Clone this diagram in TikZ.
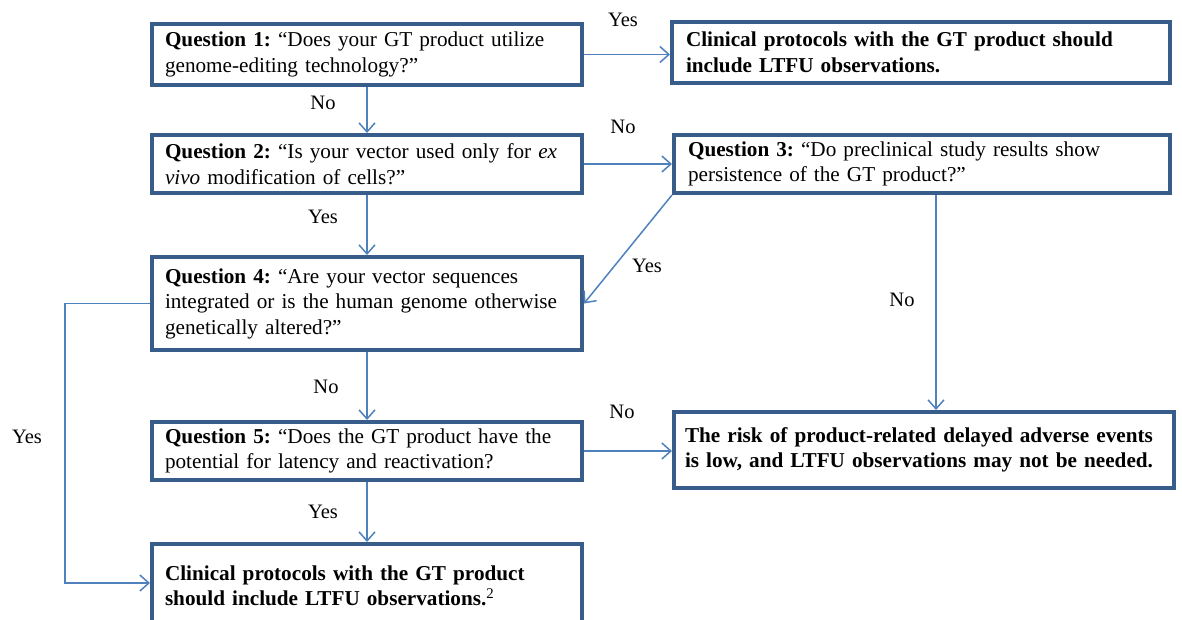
\documentclass[tikz,border=0pt]{standalone}
\usepackage{fontspec}
\setmainfont{Liberation Serif}
\frenchspacing
\usetikzlibrary{arrows.meta}
\definecolor{boxblue}{HTML}{385D8A}
\definecolor{linkblue}{HTML}{4F81BD}
\tikzset{
	qbox/.style={draw=boxblue, line width=4pt, align=left, inner xsep=13pt, inner ysep=0pt, font=\fontsize{21.2}{25.5}\selectfont},
	link/.style={draw=linkblue, line width=1.5pt, -{Straight Barb[length=9pt,width=16pt]}},
	answer/.style={font=\fontsize{20.5}{24}\selectfont, inner sep=0pt}
}
\begin{document}
\begin{tikzpicture}[x=1pt,y=-1pt]
		\useasboundingbox (0,0) rectangle (1182,619);
		% left column
		\node[qbox, minimum width=430pt, minimum height=61pt, text width=404pt] (q1) at (367,54.5)
			{\textbf{Question 1:} “Does your GT product utilize\\genome-editing technology?”};
		\node[qbox, minimum width=430pt, minimum height=58pt, text width=404pt] (q2) at (367,164)
			{\textbf{Question 2:} “Is your vector used only for \textit{ex}\\\textit{vivo} modification of cells?”};
		\node[qbox, minimum width=430pt, minimum height=93pt, text width=404pt] (q4) at (367,303.5)
			{\textbf{Question 4:} “Are your vector sequences\\integrated or is the human genome otherwise\\genetically altered?”};
		\node[qbox, minimum width=430pt, minimum height=58pt, text width=404pt] (q5) at (367,451)
			{\textbf{Question 5:} “Does the GT product have the\\potential for latency and reactivation?};
		\node[qbox, minimum width=430pt, minimum height=84pt, text width=404pt] (fin) at (367,586)
			{\textbf{Clinical protocols with the GT product}\\\textbf{should include LTFU observations.}\textsuperscript{2}};
		% right column
		\node[qbox, minimum width=498pt, minimum height=61pt, text width=470pt, inner xsep=14pt] (r1) at (921,52.5)
			{\textbf{Clinical protocols with the GT product should}\\\textbf{include LTFU observations.}};
		\node[qbox, minimum width=496pt, minimum height=58pt, text width=468pt, inner xsep=14pt] (q3) at (922,164)
			{\textbf{Question 3:} “Do preclinical study results show\\persistence of the GT product?”};
		\node[qbox, minimum width=500pt, minimum height=76pt, text width=478pt, inner xsep=11pt] (low) at (924,450)
			{\textbf{The risk of product-related delayed adverse events}\\\textbf{is low, and LTFU observations may not be needed.}};
		% connectors
		\draw[link] (q1.east) -- (q1.east -| r1.west);
		\draw[link] (q1.south) -- (q2.north);
		\draw[link] (q2.east) -- (q2.east -| q3.west);
		\draw[link] (q2.south) -- (q4.north);
		\draw[link] (q3.south west) -- (q4.east);
		\draw[link] ([xshift=14pt]q3.south) -- ([xshift=14pt]q3.south |- low.north);
		\draw[link] (q4.south) -- (q5.north);
		\draw[link] (q5.east) -- (q5.east -| low.west);
		\draw[link] (q5.south) -- (fin.north);
		\coordinate (bend) at (65,0);
		\draw[link] (q4.west) -- (q4.west -| bend) |- ([yshift=3pt]fin.west);
		% answers
		\node[answer] (yes1) at (623,20) {Yes};
		\node[answer] (no1) at (323,103) {No};
		\node[answer] (no2) at (623,127) {No};
		\node[answer] (yes2) at (323,217) {Yes};
		\node[answer] (yes3) at (647,266) {Yes};
		\node[answer] (no3) at (902,300) {No};
		\node[answer] (yes4) at (27,437) {Yes};
		\node[answer] (no4) at (326,387) {No};
		\node[answer] (no5) at (622,412) {No};
		\node[answer] (yes5) at (323,512) {Yes};
\end{tikzpicture}
\end{document}
